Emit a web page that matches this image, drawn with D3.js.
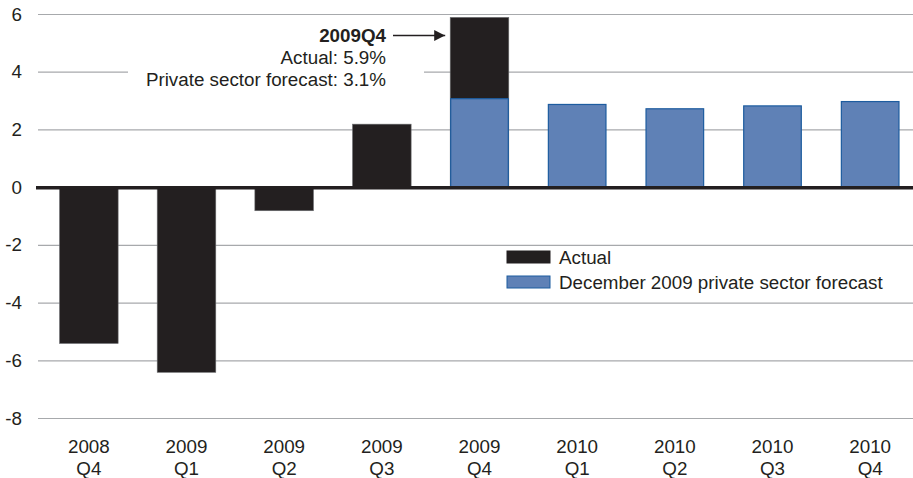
<!DOCTYPE html>
<html lang="en">
    <head>
        <meta charset="utf-8">
        <title>Real GDP growth: actual vs forecast</title>
        <script type="text/javascript" src="https://cdn.jsdelivr.net/npm/d3@7"></script>
        <style>
            body { margin: 0; background: #fff; }
            svg { font-family: "Liberation Sans", Arial, sans-serif; }
        </style>
    </head>
    <body>
        <script type="text/javascript">

            // data
            var years    = ["2008","2009","2009","2009","2009","2010","2010","2010","2010"];
            var quarters = ["Q4","Q1","Q2","Q3","Q4","Q1","Q2","Q3","Q4"];
            var actual   = [-5.4, -6.4, -0.8, 2.2, 5.9, null, null, null, null];
            var forecast = [null, null, null, null, 3.1, 2.9, 2.75, 2.85, 3.0];
            var yTicks   = [6, 4, 2, 0, -2, -4, -6, -8];

            var w = 913, h = 478, fs = 18.8;
            var black = "#231f20", blue = "#5f81b6", blueEdge = "#1d5c9f", grid = "#a7a9ac";

            var svg = d3.select("body").append("svg").attr("width", w).attr("height", h);

            var x = d3.scaleBand().domain(d3.range(years.length)).range([40, 919])
                        .paddingInner(0.4).paddingOuter(0.2);
            var y = d3.scaleLinear().domain([-8, 6]).range([418.5, 14.5]);

            // gridlines
            svg.selectAll("line.grid")
                .data(yTicks.filter(function(d){return d != 0}))
                .enter()
                .append("line")
                .attr("class", "grid")
                .attr("x1", 38).attr("x2", w)
                .attr("y1", function(d){return y(d)})
                .attr("y2", function(d){return y(d)})
                .attr("stroke", grid).attr("stroke-width", 1.2);

            // y labels
            svg.selectAll("text.ylab")
                .data(yTicks)
                .enter()
                .append("text")
                .attr("class", "ylab")
                .attr("x", 22)
                .attr("y", function(d){return y(d) + 6})
                .attr("text-anchor", "end")
                .attr("font-size", fs)
                .attr("fill", black)
                .text(function(d){return d});

            // actual bars
            svg.selectAll("rect.actual")
                .data(actual.map(function(v,i){return {i:i, v:v}}).filter(function(d){return d.v !== null}))
                .enter()
                .append("rect")
                .attr("class", "actual")
                .attr("x", function(d){return x(d.i)})
                .attr("width", x.bandwidth())
                .attr("y", function(d){return y(Math.max(0, d.v))})
                .attr("height", function(d){return Math.abs(y(d.v) - y(0))})
                .attr("fill", black)
                .attr("stroke", "#6d6e71").attr("stroke-width", 0.6);

            // forecast bars
            svg.selectAll("rect.fc")
                .data(forecast.map(function(v,i){return {i:i, v:v}}).filter(function(d){return d.v !== null}))
                .enter()
                .append("rect")
                .attr("class", "fc")
                .attr("x", function(d){return x(d.i) + 0.5})
                .attr("width", x.bandwidth() - 1)
                .attr("y", function(d){return y(d.v) + 0.5})
                .attr("height", function(d){return y(0) - y(d.v) - 0.5})
                .attr("fill", blue)
                .attr("stroke", blueEdge).attr("stroke-width", 1.2);

            // zero line
            svg.append("line")
                .attr("x1", 36).attr("x2", w)
                .attr("y1", y(0)).attr("y2", y(0))
                .attr("stroke", black).attr("stroke-width", 3.5);

            // x labels, two lines each
            var xl = svg.selectAll("text.xlab")
                .data(years)
                .enter()
                .append("text")
                .attr("class", "xlab")
                .attr("text-anchor", "middle")
                .attr("font-size", fs)
                .attr("fill", black);
            xl.append("tspan")
                .attr("x", function(d,i){return x(i) + x.bandwidth()/2})
                .attr("y", 453)
                .text(function(d){return d});
            xl.append("tspan")
                .attr("x", function(d,i){return x(i) + x.bandwidth()/2})
                .attr("y", 475)
                .text(function(d,i){return quarters[i]});

            // annotation for 2009Q4
            svg.append("rect")
                .attr("x", 128).attr("y", 62).attr("width", 296).attr("height", 22)
                .attr("fill", "#fff");
            var ann = svg.append("g").attr("font-size", fs).attr("fill", black).attr("text-anchor", "end");
            ann.append("text").attr("x", 386).attr("y", 42).attr("font-weight", "bold").text("2009Q4");
            ann.append("text").attr("x", 386).attr("y", 64).text("Actual: " + actual[4] + "%");
            ann.append("text").attr("x", 386).attr("y", 86).text("Private sector forecast: " + forecast[4] + "%");

            svg.append("defs").append("marker")
                .attr("id", "arr").attr("viewBox", "0 0 10 10")
                .attr("refX", 10).attr("refY", 5)
                .attr("markerWidth", 11).attr("markerHeight", 11)
                .attr("markerUnits", "userSpaceOnUse")
                .attr("orient", "auto")
                .append("path").attr("d", "M0,0 L10,5 L0,10 Z").attr("fill", black);
            svg.append("line")
                .attr("x1", 393).attr("x2", x(4) - 5)
                .attr("y1", 35.5).attr("y2", 35.5)
                .attr("stroke", black).attr("stroke-width", 1.3)
                .attr("marker-end", "url(#arr)");

            // legend
            var legend = [{label: "Actual", fill: black, edge: black},
                          {label: "December 2009 private sector forecast", fill: blue, edge: blueEdge}];
            var lg = svg.selectAll("g.lg")
                .data(legend)
                .enter()
                .append("g")
                .attr("class", "lg")
                .attr("transform", function(d,i){return "translate(507," + (251 + i*25) + ")"});
            lg.append("rect")
                .attr("width", 43).attr("height", 12)
                .attr("fill", function(d){return d.fill})
                .attr("stroke", function(d){return d.edge}).attr("stroke-width", 1);
            lg.append("text")
                .attr("x", 52).attr("y", 13)
                .attr("font-size", fs)
                .attr("fill", black)
                .text(function(d){return d.label});

        </script>
    </body>
</html>
